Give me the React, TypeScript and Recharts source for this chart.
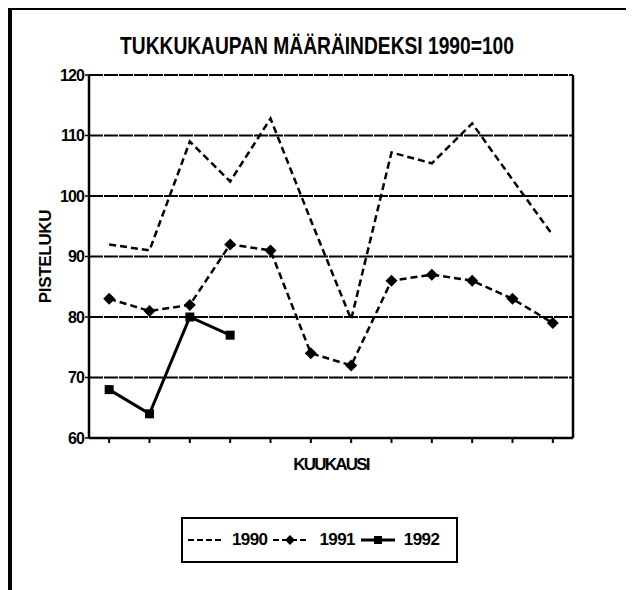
import { LineChart, Line, XAxis, YAxis, CartesianGrid } from "recharts";

const FONT = "'Liberation Sans', Arial, sans-serif";

const MONTHS = [1, 2, 3, 4, 5, 6, 7, 8, 9, 10, 11, 12];
const Y1990 = [92, 91, 109, 102.4, 112.8, 96, 79.6, 107.2, 105.4, 112, 102.7, 93.5];
const Y1991 = [83, 81, 82, 92, 91, 74, 72, 86, 87, 86, 83, 79];
const Y1992 = [68, 64, 80, 77];
const Y_TICKS = [60, 70, 80, 90, 100, 110, 120];
const SERIES = ["1990", "1991", "1992"];

const TITLE = "TUKKUKAUPAN MÄÄRÄINDEKSI 1990=100";
const Y_LABEL = "PISTELUKU";
const X_LABEL = "KUUKAUSI";

const data = MONTHS.map((m, i) => ({
  month: m,
  y1990: Y1990[i],
  y1991: Y1991[i],
  y1992: i < Y1992.length ? Y1992[i] : null,
}));

function Diamond(props: any) {
  const { cx, cy, index } = props;
  if (cx == null || cy == null) return <g key={`d-${index}`} />;
  return (
    <path
      key={`d-${index}`}
      d={`M${cx},${cy - 6} L${cx + 6},${cy} L${cx},${cy + 6} L${cx - 6},${cy} Z`}
      fill="#000"
    />
  );
}

function Square(props: any) {
  const { cx, cy, index } = props;
  if (cx == null || cy == null) return <g key={`s-${index}`} />;
  return <rect key={`s-${index}`} x={cx - 4.5} y={cy - 4.5} width={9} height={9} fill="#000" />;
}

function LegendSample({ kind }: { kind: number }) {
  return (
    <svg width={34} height={14} style={{ display: "block" }}>
      {kind === 0 && <line x1={0} y1={7} x2={34} y2={7} stroke="#000" strokeWidth={2} strokeDasharray="6 3" />}
      {kind === 1 && (
        <>
          <line x1={0} y1={7} x2={34} y2={7} stroke="#000" strokeWidth={2} strokeDasharray="6 3" />
          <path d="M17,2 L22,7 L17,12 L12,7 Z" fill="#000" />
        </>
      )}
      {kind === 2 && (
        <>
          <line x1={0} y1={7} x2={34} y2={7} stroke="#000" strokeWidth={3} />
          <rect x={13} y={3} width={8} height={8} fill="#000" />
        </>
      )}
    </svg>
  );
}

export default function App() {
  return (
    <div style={{ position: "relative", left: -8, top: -8, width: 634, height: 590, background: "#fff", overflow: "hidden" }}>
      <div
        style={{
          position: "absolute", left: 0, width: 634, top: 32, textAlign: "center",
          fontFamily: FONT, fontWeight: "bold", fontSize: 24, lineHeight: "28px", color: "#000",
          transform: "scaleX(0.8)", transformOrigin: "317px 0",
        }}
      >
        {TITLE}
      </div>

      <div style={{ position: "absolute", left: 0, top: 0 }}>
        <LineChart width={634} height={590} data={data} margin={{ top: 75, right: 60, bottom: 122, left: 49 }}>
          <CartesianGrid yAxisId="left" horizontal vertical={false} stroke="#000" strokeWidth={2} strokeDasharray="14 1" />
          <XAxis
            dataKey="month"
            type="number"
            domain={[0.5, 12.5]}
            ticks={MONTHS}
            height={30}
            tick={() => null}
            tickSize={5}
            tickLine={{ stroke: "#000", strokeWidth: 2 }}
            axisLine={{ stroke: "#000", strokeWidth: 2.5 }}
            label={{
              value: X_LABEL, position: "insideBottom", offset: -2,
              style: { fontFamily: FONT, fontWeight: "bold", fontSize: 17, letterSpacing: -1.8, fill: "#000" },
            }}
          />
          <YAxis
            yAxisId="left"
            width={40}
            domain={[60, 120]}
            ticks={Y_TICKS}
            tickSize={4}
            tickMargin={1}
            tickLine={{ stroke: "#000", strokeWidth: 1.5 }}
            axisLine={{ stroke: "#000", strokeWidth: 2.5 }}
            tick={{ fontFamily: FONT, fontWeight: "bold", fontSize: 16, fill: "#000", letterSpacing: -0.9 }}
            label={{
              value: Y_LABEL, angle: -90, position: "insideLeft", offset: -4,
              style: { fontFamily: FONT, fontWeight: "bold", fontSize: 17, letterSpacing: -0.3, fill: "#000", textAnchor: "middle" },
            }}
          />
          <YAxis
            yAxisId="right"
            orientation="right"
            width={1}
            domain={[60, 120]}
            ticks={Y_TICKS}
            tick={false}
            tickLine={false}
            axisLine={{ stroke: "#000", strokeWidth: 2.5 }}
          />
          <Line
            yAxisId="left"
            type="linear"
            dataKey="y1990"
            name={SERIES[0]}
            stroke="#000"
            strokeWidth={2.5}
            strokeDasharray="7 4"
            dot={false}
            activeDot={false}
            isAnimationActive={false}
          />
          <Line
            yAxisId="left"
            type="linear"
            dataKey="y1991"
            name={SERIES[1]}
            stroke="#000"
            strokeWidth={2.5}
            strokeDasharray="7 4"
            dot={Diamond}
            activeDot={false}
            isAnimationActive={false}
          />
          <Line
            yAxisId="left"
            type="linear"
            dataKey="y1992"
            name={SERIES[2]}
            stroke="#000"
            strokeWidth={3}
            dot={Square}
            activeDot={false}
            connectNulls={false}
            isAnimationActive={false}
          />
        </LineChart>
      </div>

      {/* legend */}
      <div
        style={{
          position: "absolute", left: 181, top: 517, width: 277, height: 46, boxSizing: "border-box",
          border: "2px solid #000", display: "flex", alignItems: "center", paddingLeft: 5,
          fontFamily: FONT, fontWeight: "bold", fontSize: 17, letterSpacing: -0.6, color: "#000",
        }}
      >
        {SERIES.map((s, i) => (
          <div key={s} style={{ display: "flex", alignItems: "center", marginRight: i === 2 ? 0 : 6 }}>
            <LegendSample kind={i} />
            <span style={{ marginLeft: i === 0 ? 10 : i === 1 ? 12 : 9 }}>{s}</span>
          </div>
        ))}
      </div>

      {/* outer frame (top and left edges of the scanned page) */}
      <svg width={634} height={590} style={{ position: "absolute", left: 0, top: 0, pointerEvents: "none" }}>
        <rect x={8} y={6} width={626} height={4} fill="#000" />
        <rect x={8} y={6} width={4} height={584} fill="#000" />
      </svg>
    </div>
  );
}
